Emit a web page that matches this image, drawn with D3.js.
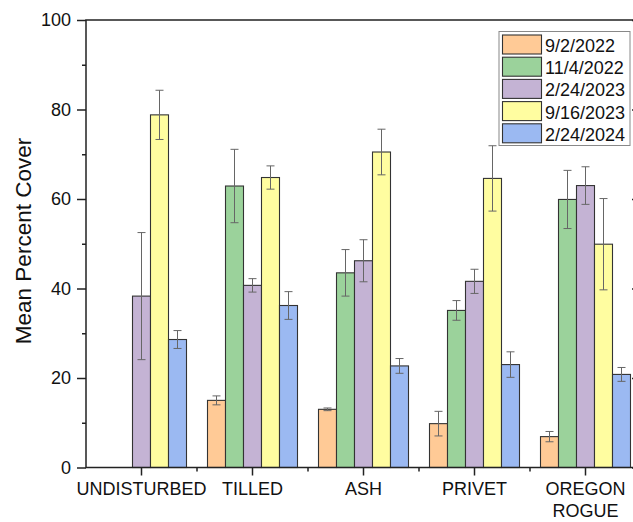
<!DOCTYPE html>
<html>
<head>
<meta charset="utf-8">
<script src="https://cdn.jsdelivr.net/npm/d3@7/dist/d3.min.js"></script>
<style>
  html, body { margin: 0; padding: 0; background: #fff; }
  svg { display: block; }
  text { font-family: Arial, "Liberation Sans", sans-serif; fill: #111; }
</style>
</head>
<body>
<svg id="chart" width="633" height="522"></svg>
<script>
const categories = ["UNDISTURBED", "TILLED", "ASH", "PRIVET", "OREGON ROGUE"];
const seriesNames = ["9/2/2022", "11/4/2022", "2/24/2023", "9/16/2023", "2/24/2024"];
const seriesColors = ["#FFCA96", "#9BD29B", "#C4B3D4", "#FFFDA0", "#9BB9F2"];
// null = no bar
const values = [
  [null, 15.0, 13.0, 9.8, 6.9],
  [null, 62.9, 43.5, 35.1, 59.9],
  [38.3, 40.7, 46.2, 41.6, 63.0],
  [78.8, 64.8, 70.5, 64.6, 49.9],
  [28.6, 36.2, 22.7, 23.0, 20.8]
];
const errors = [
  [null, 1.0, 0.3, 2.75, 1.15],
  [null, 8.2, 5.2, 2.2, 6.5],
  [14.2, 1.5, 4.7, 2.7, 4.2],
  [5.5, 2.6, 5.1, 7.3, 10.2],
  [2.0, 3.1, 1.65, 2.85, 1.55]
];
const yTicks = [0, 20, 40, 60, 80, 100];
const yMinorTicks = [10, 30, 50, 70, 90];

(function () {
const svg = d3.select("#chart");
const mLeft = 86, mRight = 641, mTop = 20, mBottom = 467.5;

const x = d3.scaleBand().domain(categories).range([mLeft, mRight])
  .paddingInner(21 / 111).paddingOuter(10.5 / 111);
const xs = d3.scaleBand().domain(d3.range(seriesNames.length)).range([0, x.bandwidth()]);
const y = d3.scaleLinear().domain([0, 100]).range([mBottom, mTop]);

const barData = [];
values.forEach((row, s) => row.forEach((v, c) => {
  if (v !== null) barData.push({ s, c, v, e: errors[s][c] });
}));

svg.append("g").selectAll("rect").data(barData).join("rect")
  .attr("x", d => x(categories[d.c]) + xs(d.s))
  .attr("y", d => y(d.v))
  .attr("width", xs.bandwidth())
  .attr("height", d => y(0) - y(d.v))
  .attr("fill", d => seriesColors[d.s])
  .attr("stroke", "#333")
  .attr("stroke-width", 1.1);

const eg = svg.append("g").attr("stroke", "#666").attr("stroke-width", 1).attr("fill", "none");
barData.forEach(d => {
  const cx = x(categories[d.c]) + xs(d.s) + xs.bandwidth() / 2;
  const y1 = y(d.v + d.e), y2 = y(d.v - d.e);
  eg.append("line").attr("x1", cx).attr("x2", cx).attr("y1", y1).attr("y2", y2);
  eg.append("line").attr("x1", cx - 4).attr("x2", cx + 4).attr("y1", y1).attr("y2", y1);
  eg.append("line").attr("x1", cx - 4).attr("x2", cx + 4).attr("y1", y2).attr("y2", y2);
});

const axisColor = "#222";
const yAxis = svg.append("g").attr("transform", `translate(${mLeft},0)`)
  .call(d3.axisLeft(y).tickValues(yTicks).tickSize(9).tickPadding(6).tickFormat(d3.format("d")));
yAxis.select(".domain").remove();
yAxis.selectAll("line").attr("stroke", axisColor).attr("stroke-width", 1.5);
yAxis.selectAll("text").attr("font-size", 18).attr("fill", "#111").attr("font-family", "Arial, 'Liberation Sans', sans-serif");

const yMinor = svg.append("g").attr("transform", `translate(${mLeft},0)`)
  .call(d3.axisLeft(y).tickValues(yMinorTicks).tickSize(4).tickFormat(""));
yMinor.select(".domain").remove();
yMinor.selectAll("line").attr("stroke", axisColor).attr("stroke-width", 1.5);

const yRight = svg.append("g").attr("transform", `translate(${mRight},0)`)
  .call(d3.axisLeft(y).tickValues(yTicks).tickSize(9).tickFormat(""));
yRight.select(".domain").remove();
yRight.selectAll("line").attr("stroke", axisColor).attr("stroke-width", 1.5);

const xAxis = svg.append("g").attr("transform", `translate(0,${mBottom})`)
  .call(d3.axisBottom(x).tickSize(8).tickPadding(7));
xAxis.select(".domain").remove();
xAxis.selectAll("line").attr("stroke", axisColor).attr("stroke-width", 1.5);
xAxis.selectAll("text").attr("font-size", 18).attr("fill", "#111")
  .attr("font-family", "Arial, 'Liberation Sans', sans-serif")
  .each(function (d) {
    const t = d3.select(this);
    const words = d.split(" ");
    if (words.length > 1) {
      t.text(null);
      words.forEach((w, i) => t.append("tspan").attr("x", 0).attr("dy", i === 0 ? "0.71em" : "1.2em").text(w));
      t.attr("dy", null);
    }
  });

const xMinorPos = categories.slice(1).map(c => x(c) - x.step() * x.paddingInner() / 2);
svg.append("g").selectAll("line").data(xMinorPos).join("line")
  .attr("x1", d => d).attr("x2", d => d)
  .attr("y1", mBottom).attr("y2", mBottom + 4)
  .attr("stroke", axisColor).attr("stroke-width", 1.5);

svg.append("rect").attr("x", mLeft).attr("y", mTop)
  .attr("width", mRight - mLeft).attr("height", mBottom - mTop)
  .attr("fill", "none").attr("stroke", axisColor).attr("stroke-width", 1.5);

svg.append("text")
  .attr("transform", `translate(31,241) rotate(-90)`)
  .attr("text-anchor", "middle")
  .attr("font-size", 22.5)
  .text("Mean Percent Cover");

const lg = svg.append("g");
lg.append("rect").attr("x", 499).attr("y", 31.5).attr("width", 131).attr("height", 114)
  .attr("fill", "#fff").attr("stroke", "#888").attr("stroke-width", 1);
seriesNames.forEach((n, i) => {
  const yy = 35 + i * 22.2;
  lg.append("rect").attr("x", 502.5).attr("y", yy).attr("width", 39).attr("height", 19)
    .attr("fill", seriesColors[i]).attr("stroke", "#333").attr("stroke-width", 1.1);
  lg.append("text").attr("x", 545).attr("y", yy + 17).attr("font-size", 18).text(n);
});
})();
</script>
</body>
</html>
